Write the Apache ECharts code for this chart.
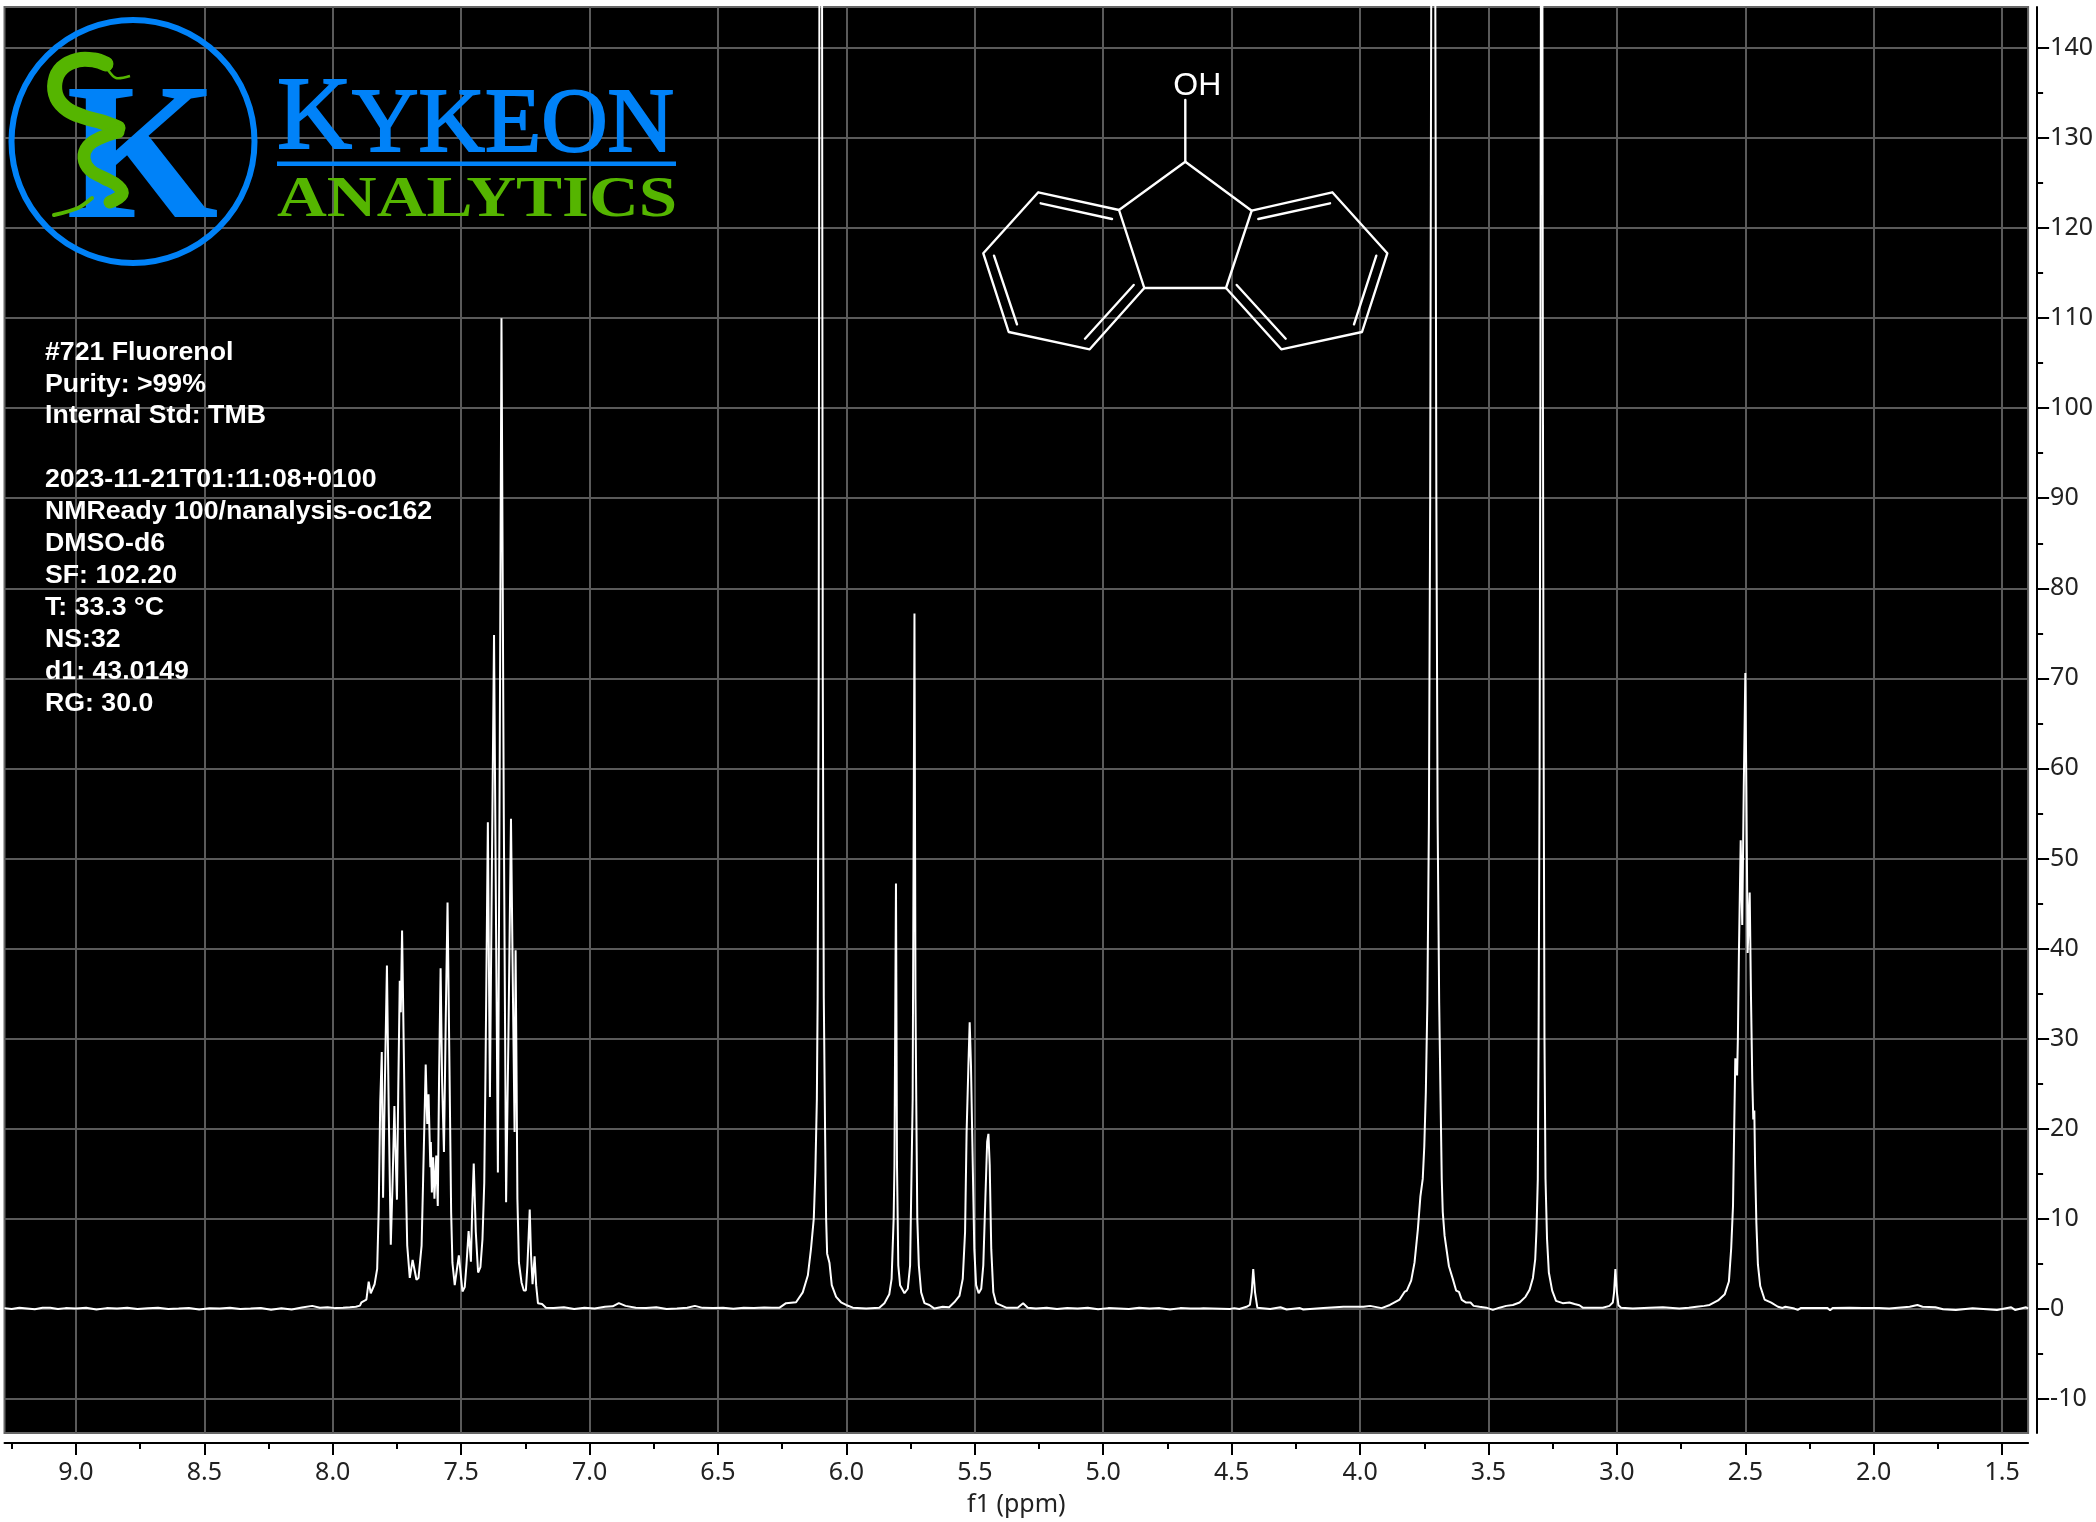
<!DOCTYPE html>
<html><head><meta charset="utf-8">
<style>html,body{margin:0;padding:0;background:#fff}#c{width:2096px;height:1522px}</style>
<script src="https://cdn.jsdelivr.net/npm/echarts@6/dist/echarts.min.js"></script>
</head><body><div id="c"></div>
<script>
const shiftTicks = [9,8.5,8,7.5,7,6.5,6,5.5,5,4.5,4,3.5,3,2.5,2,1.5];
const shiftMinorTicks = [9.25,8.75,8.25,7.75,7.25,6.75,6.25,5.75,5.25,4.75,4.25,3.75,3.25,2.75,2.25,1.75];
const intensityTicks = [-10,0,10,20,30,40,50,60,70,80,90,100,110,120,130,140];
const intensityMinorTicks = [-5,5,15,25,35,45,55,65,75,85,95,105,115,125,135];
const noteLines = ['#721 Fluorenol','Purity: >99%','Internal Std: TMB','','2023-11-21T01:11:08+0100','NMReady 100/nanalysis-oc162','DMSO-d6','SF: 102.20','T: 33.3 °C','NS:32','d1: 43.0149','RG: 30.0'];

const baselineLowField = [[9.278,.05],[9.25,-.05],[9.22,.1],[9.19,.02],[9.16,-.08],[9.13,.08],[9.10,.1],[9.07,-.05],[9.04,.05],[9.0,.02],[8.96,.1],[8.92,-.1],[8.88,.05],[8.84,0],[8.8,.08],[8.76,-.06],[8.72,.04],[8.68,.1],[8.64,-.05],[8.6,0],[8.56,.06],[8.52,-.1],[8.48,.04],[8.44,.02],[8.4,.08],[8.36,-.04],[8.32,0],[8.28,.07],[8.24,-.12],[8.2,.03],[8.16,-.1],[8.12,.12],[8.08,.3],[8.05,.1],[8.02,.15],[7.99,.05],[7.96,.1],[7.933,.15],[7.91,.2]];
const aromaticRegion = [[7.894,.33],[7.888,.7],[7.869,1],[7.86,3],[7.852,1.7],[7.837,2.7],[7.827,4.4],[7.821,11],[7.815,23],[7.809,28.5],[7.804,12.3],[7.797,25],[7.789,38.1],[7.782,22],[7.774,7.1],[7.767,14],[7.76,22.5],[7.755,17],[7.75,12.1],[7.745,24],[7.739,36.4],[7.735,32.9],[7.73,42],[7.724,30],[7.718,18],[7.71,7],[7.7,3.4],[7.689,5.4],[7.674,3.2],[7.666,3.4],[7.654,7],[7.648,14.4],[7.638,27.1],[7.632,20.5],[7.627,23.8],[7.62,15.7],[7.618,18.5],[7.614,12.9],[7.609,16.8],[7.604,12.2],[7.597,17],[7.591,11.4],[7.586,25.5],[7.58,37.8],[7.574,25],[7.567,17.4],[7.56,32],[7.553,45.1],[7.546,28],[7.539,10.7],[7.534,5.1],[7.525,2.6],[7.509,5.9],[7.495,1.9],[7.486,2.4],[7.479,5],[7.471,8.6],[7.462,5.2],[7.457,11],[7.451,16.1],[7.443,8.5],[7.434,4],[7.425,4.6],[7.417,7.7],[7.41,14],[7.405,27],[7.396,54],[7.388,23.5],[7.38,50],[7.372,74.8],[7.364,42],[7.357,15.1],[7.35,60],[7.343,110],[7.334,55],[7.325,11.8],[7.316,30],[7.306,54.4],[7.298,34],[7.292,19.6],[7.288,39.8],[7.284,25],[7.281,12.2],[7.275,5.1],[7.265,2.9],[7.256,2],[7.248,2],[7.242,4.8],[7.233,11],[7.228,6],[7.222,2.7],[7.214,5.8],[7.208,2.6],[7.201,.6],[7.185,.5],[7.17,.1]];
const baselineMid = [[7.14,.05],[7.1,.15],[7.06,-.05],[7.02,.08],[6.98,0],[6.94,.2],[6.91,.25],[6.886,.6],[6.86,.3],[6.82,.1],[6.78,.05],[6.74,.15],[6.7,-.05],[6.66,0],[6.62,.1],[6.59,.3],[6.56,.08],[6.52,.05],[6.48,.1],[6.44,-.02],[6.4,.1],[6.36,.05],[6.32,.12],[6.29,.08],[6.26,.1]];
const hydroxylRegion = [[6.235,.6],[6.196,.7],[6.17,1.8],[6.15,3.7],[6.138,6.6],[6.127,10],[6.121,15.1],[6.115,23.3],[6.112,34.4],[6.108,70],[6.105,150],[6.1,620],[6.095,150],[6.092,70],[6.088,34.4],[6.083,19.6],[6.079,10],[6.075,6.1],[6.066,5.1],[6.057,2.6],[6.04,1.3],[6.021,.7],[6.001,.4],[5.975,.1],[5.923,0],[5.872,.1],[5.852,.6],[5.833,1.6],[5.824,3.3],[5.816,10],[5.813,15.9],[5.807,47.2],[5.803,15.9],[5.798,4.8],[5.791,2.6],[5.774,1.7],[5.761,2.2],[5.752,4.8],[5.746,15.9],[5.742,23.3],[5.735,77.2],[5.731,34.4],[5.728,23],[5.724,10],[5.718,4.8],[5.709,1.8],[5.696,.6],[5.677,.4],[5.657,0],[5.625,.2],[5.6,.15],[5.58,.7],[5.56,1.4],[5.547,3.3],[5.538,8.5],[5.532,19.6],[5.525,27],[5.52,31.8],[5.515,27],[5.508,15.9],[5.502,6.6],[5.495,2.6],[5.485,1.7],[5.475,2.2],[5.467,4.8],[5.459,12.2],[5.452,18.5],[5.447,19.4],[5.442,15.9],[5.436,6.6],[5.428,1.8],[5.417,.6],[5.378,.1],[5.333,.1],[5.312,.6],[5.294,.1],[5.262,0]];
const baselineHigh = [[5.22,.08],[5.18,-.05],[5.14,.06],[5.1,0],[5.06,.1],[5.02,-.08],[4.98,.05],[4.94,.02],[4.9,-.06],[4.86,.08],[4.82,0],[4.78,.05],[4.74,-.1],[4.7,.05],[4.66,.02],[4.623,0],[4.61,.03],[4.507,-.05],[4.49,.05],[4.47,-.05],[4.442,.2],[4.429,.4],[4.422,1.8],[4.416,4.4],[4.409,1.8],[4.4,.1],[4.35,-.05],[4.31,.15],[4.286,-.1],[4.234,.05],[4.221,-.1],[4.143,.05],[4.065,.2],[3.987,.2],[3.961,.3],[3.916,.05],[3.884,.4]];
const methanolRegion = [[3.846,1],[3.827,1.85],[3.818,2],[3.801,3.1],[3.788,5.1],[3.775,8.8],[3.765,12.5],[3.756,14.4],[3.75,18],[3.744,24],[3.738,34],[3.732,54],[3.727,90],[3.723,145],[3.715,600],[3.707,145],[3.703,90],[3.698,54],[3.692,34],[3.687,24],[3.682,14.4],[3.678,10.7],[3.671,8.1],[3.654,4.7],[3.639,3.3],[3.626,2],[3.615,1.85],[3.604,.96],[3.587,.67],[3.57,.67],[3.558,.3],[3.535,.2],[3.509,.1],[3.483,-.15],[3.457,.1],[3.431,.3],[3.405,.4],[3.379,.67],[3.356,1.3],[3.34,2.1],[3.327,3.4],[3.318,5.5],[3.313,8.8],[3.308,14.4],[3.305,30],[3.301,60],[3.298,100],[3.296,145],[3.293,600],[3.29,145],[3.288,100],[3.285,60],[3.282,30],[3.278,14.4],[3.272,7.7],[3.265,4],[3.252,2],[3.237,.85],[3.211,.6],[3.185,.67],[3.165,.5],[3.146,.37],[3.133,.1],[3.094,.1],[3.055,.1],[3.029,.3],[3.016,.67],[3.011,1.8],[3.006,4.4],[3,1.8],[2.994,.37],[2.984,.1],[2.938,0],[2.873,.1],[2.821,.15],[2.757,0]];
const dmsoRegion = [[2.72,.1],[2.69,.2],[2.66,.3],[2.639,.4],[2.606,.9],[2.58,1.6],[2.564,3],[2.555,6.7],[2.548,11.4],[2.543,20.7],[2.539,27.8],[2.532,25.9],[2.529,30],[2.525,39.4],[2.518,52],[2.512,42.6],[2.506,58],[2.5,70.6],[2.496,58],[2.491,39.5],[2.483,46.2],[2.478,34.7],[2.473,25.4],[2.469,21],[2.465,22],[2.462,16],[2.457,9.5],[2.451,4.9],[2.442,2.5],[2.425,1],[2.399,.65],[2.373,.2],[2.355,.07],[2.344,.2],[2.309,0],[2.296,-.15],[2.283,.07],[2.18,.07],[2.17,-.2],[2.16,.07],[2.095,.1],[2.089,-.1],[2.043,.07],[2.036,-.1],[1.98,.07],[1.94,0],[1.86,.2],[1.83,.4],[1.81,.2],[1.804,0],[1.76,.15],[1.73,-.07],[1.68,-.15],[1.615,.04],[1.56,-.07],[1.52,-.15],[1.465,.15],[1.45,-.15],[1.407,.15],[1.399,0]];
const spectrum = [].concat(baselineLowField, aromaticRegion, baselineMid, hydroxylRegion, baselineHigh, methanolRegion, dmsoRegion);

const GRID='#5a5a5a', BLUE='#0082f8', GREEN='#55b500';
const sans='"Liberation Sans"', serif='"Liberation Serif"', axisFont='"Noto Sans"';
const seg=(x1,y1,x2,y2)=>({type:'line',shape:{x1,y1,x2,y2},style:{stroke:'#fff',lineWidth:2.4,lineCap:'round'},silent:true,z:50});
const poly=(pts)=>({type:'polyline',shape:{points:pts},style:{stroke:'#fff',lineWidth:2.4,fill:null,lineJoin:'round'},silent:true,z:50});

const graphics=[
 {type:'circle',shape:{cx:133,cy:141.5,r:121.5},style:{stroke:BLUE,lineWidth:6,fill:null},z:50,silent:true},
 {type:'text',x:66,y:166.5,style:{text:'K',font:'bold 196px '+serif,fill:BLUE,verticalAlign:'middle',align:'left'},z:51,silent:true},
 {type:'polyline',shape:{points:[[106,64],[94,60],[78,60],[62,68],[55,82],[57,98],[68,110],[84,117],[102,122],[118,128]],smooth:.4},style:{stroke:GREEN,lineWidth:15,fill:null,lineCap:'round'},z:52,silent:true},
 {type:'polyline',shape:{points:[[118,132],[100,138],[88,146],[84,158],[90,170],[104,178],[118,186],[122,194],[110,202]],smooth:.4},style:{stroke:GREEN,lineWidth:13,fill:null,lineCap:'round'},z:52,silent:true},
 {type:'polyline',shape:{points:[[92,198],[78,208],[54,215]],smooth:.3},style:{stroke:GREEN,lineWidth:4,fill:null,lineCap:'round'},z:52,silent:true},
 {type:'polyline',shape:{points:[[108,70],[116,78],[130,76]],smooth:.3},style:{stroke:GREEN,lineWidth:2.5,fill:null},z:52,silent:true},
 {type:'circle',shape:{cx:106,cy:64,r:7},style:{fill:GREEN},z:52,silent:true},
 {type:'text',x:277,y:172.5,style:{text:'{a|K}{b|YKEON}',rich:{a:{font:'104px '+serif,fill:BLUE,stroke:BLUE,lineWidth:2,verticalAlign:'bottom'},b:{font:'92px '+serif,fill:BLUE,stroke:BLUE,lineWidth:2,verticalAlign:'bottom'}},verticalAlign:'bottom',align:'left'},z:50,silent:true},
 {type:'rect',shape:{x:277,y:161.5,width:399,height:4.5},style:{fill:BLUE},z:50,silent:true},
 {type:'text',x:277,y:201.5,scaleX:1.19,style:{text:'ANALYTICS',font:'bold 58px '+serif,fill:GREEN,verticalAlign:'middle',align:'left'},z:50,silent:true},
 {type:'text',x:45,y:336.3,style:{text:noteLines.join('\n'),font:'bold 26.7px '+sans,fill:'#fff',lineHeight:31.93,align:'left',verticalAlign:'top'},z:50,silent:true},
 seg(1185.3,161.7,1185.3,100),
 poly([[1185.3,161.7],[1119,210],[1144.3,288],[1226,288],[1251.7,210.7],[1185.3,161.7]]),
 poly([[1119,210],[1038.3,192.3],[983.3,253.3],[1008.7,332],[1089.7,349.3],[1144.3,288]]),
 poly([[1251.7,210.7],[1332.3,192.3],[1387.3,253.3],[1362,332],[1281.3,349.3],[1226,288]]),
 seg(1040.7,203.3,1112,219),seg(994,255.7,1017,324.3),seg(1085,338.7,1133.7,285),
 seg(1258.3,219,1330,203.3),seg(1376.3,255.7,1354,324.3),seg(1236.7,285,1285.7,338.7),
 {type:'text',x:1197.3,y:86,style:{text:'OH',font:'32px '+sans,fill:'#fff',align:'center',verticalAlign:'middle'},z:50,silent:true}
];

const X_MIN=1.399, X_MAX=9.278, Y_MIN=-13.82, Y_MAX=144.56;
const chart=echarts.init(document.getElementById('c'),null,{renderer:'canvas'});
chart.setOption({
 animation:false,
 backgroundColor:'#fff',
 grid:{left:4.5,right:67,top:7,bottom:88,show:true,backgroundColor:'#000',borderColor:'#666',borderWidth:2,containLabel:false},
 xAxis:[
  {type:'value',inverse:true,min:X_MIN,max:X_MAX,position:'bottom',offset:10,
   name:'f1 (ppm)',nameLocation:'middle',nameGap:49,nameTextStyle:{fontFamily:axisFont,fontSize:25,color:'#222'},
   axisLine:{show:true,onZero:false,lineStyle:{color:'#000',width:2}},
   axisTick:{show:true,length:12,customValues:shiftTicks,lineStyle:{color:'#000',width:2}},
   axisLabel:{show:true,customValues:shiftTicks,margin:17,fontFamily:axisFont,fontSize:25,color:'#222',formatter:v=>v.toFixed(1)},
   splitLine:{show:true,lineStyle:{color:GRID,width:2}},minorTick:{show:false}},
  {type:'value',inverse:true,min:X_MIN,max:X_MAX,position:'bottom',offset:10,
   axisLine:{show:false,onZero:false},
   axisTick:{show:true,length:6,customValues:shiftMinorTicks,lineStyle:{color:'#000',width:2}},
   axisLabel:{show:false},splitLine:{show:false}}
 ],
 yAxis:[
  {type:'value',min:Y_MIN,max:Y_MAX,position:'right',offset:9,
   axisLine:{show:true,onZero:false,lineStyle:{color:'#000',width:2}},
   axisTick:{show:true,length:12,customValues:intensityTicks,lineStyle:{color:'#000',width:2}},
   axisLabel:{show:true,customValues:intensityTicks,margin:13,fontFamily:axisFont,fontSize:25,color:'#222'},
   splitLine:{show:true,lineStyle:{color:GRID,width:2}}},
  {type:'value',min:Y_MIN,max:Y_MAX,position:'right',offset:9,
   axisLine:{show:false,onZero:false},
   axisTick:{show:true,length:6,customValues:intensityMinorTicks,lineStyle:{color:'#000',width:2}},
   axisLabel:{show:false},splitLine:{show:false}}
 ],
 series:[{type:'line',xAxisIndex:0,yAxisIndex:0,data:spectrum,showSymbol:false,symbol:'none',clip:true,smooth:false,sampling:'none',silent:true,lineStyle:{color:'#fff',width:2},z:10}],
 graphic:{elements:graphics}
});
</script></body></html>
